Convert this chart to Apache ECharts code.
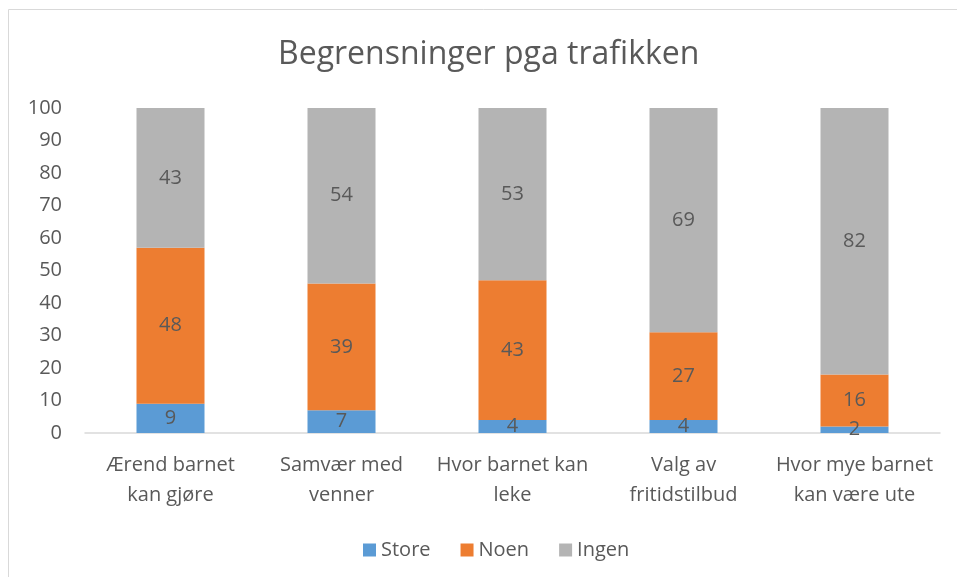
<!DOCTYPE html>
<html><head><meta charset="utf-8">
<script src="https://cdn.jsdelivr.net/npm/echarts@6/dist/echarts.min.js"></script>
<style>html,body{margin:0;padding:0;background:#fff}#c{width:957px;height:577px}</style>
</head><body><div id="c"></div>
<script>
const categories = ['Ærend barnet\nkan gjøre','Samvær med\nvenner','Hvor barnet kan\nleke','Valg av\nfritidstilbud','Hvor mye barnet\nkan være ute'];
const store = [9,7,4,4,2];
const noen = [48,39,43,27,16];
const ingen = [43,54,53,69,82];
const yTicks = [0,10,20,30,40,50,60,70,80,90,100];
const FONT = 'Open Sans';
const chart = echarts.init(document.getElementById('c'));
const lbl = {show:true, position:'inside', color:'#595959', fontSize:20, fontFamily:FONT};
function s(name, data, color){
  return {name, type:'bar', stack:'t', data, barWidth:68, itemStyle:{color}, label:lbl, emphasis:{disabled:true}};
}
chart.setOption({
  animation:false,
  title:{text:'Begrensninger pga trafikken', left:273, top:34, textStyle:{fontFamily:FONT, fontSize:32, fontWeight:'normal', color:'#595959'}},
  legend:{bottom:12, left:358, itemWidth:13, itemHeight:13, itemGap:30, icon:'rect', textStyle:{fontFamily:FONT, fontSize:20, color:'#595959'}, data:['Store','Noen','Ingen']},
  grid:{left:85, right:17, top:108, bottom:144},
  xAxis:{type:'category', data:categories, axisLine:{lineStyle:{color:'#D9D9D9', width:1.5}}, axisTick:{show:false},
    axisLabel:{interval:0, fontFamily:FONT, fontSize:20, color:'#595959', lineHeight:30, margin:17}},
  yAxis:{type:'value', min:yTicks[0], max:yTicks[yTicks.length-1], interval:10, splitLine:{show:false}, axisLine:{show:false}, axisTick:{show:false},
    axisLabel:{fontFamily:FONT, fontSize:20, color:'#595959', margin:23}},
  series:[s('Store',store,'#5B9BD5'), s('Noen',noen,'#ED7D31'), s('Ingen',ingen,'#B4B4B4')],
  graphic:[{type:'rect', shape:{x:8.5,y:9.5,width:970,height:600}, style:{fill:null, stroke:'#D9D9D9', lineWidth:1}, silent:true}]
});
</script></body></html>
